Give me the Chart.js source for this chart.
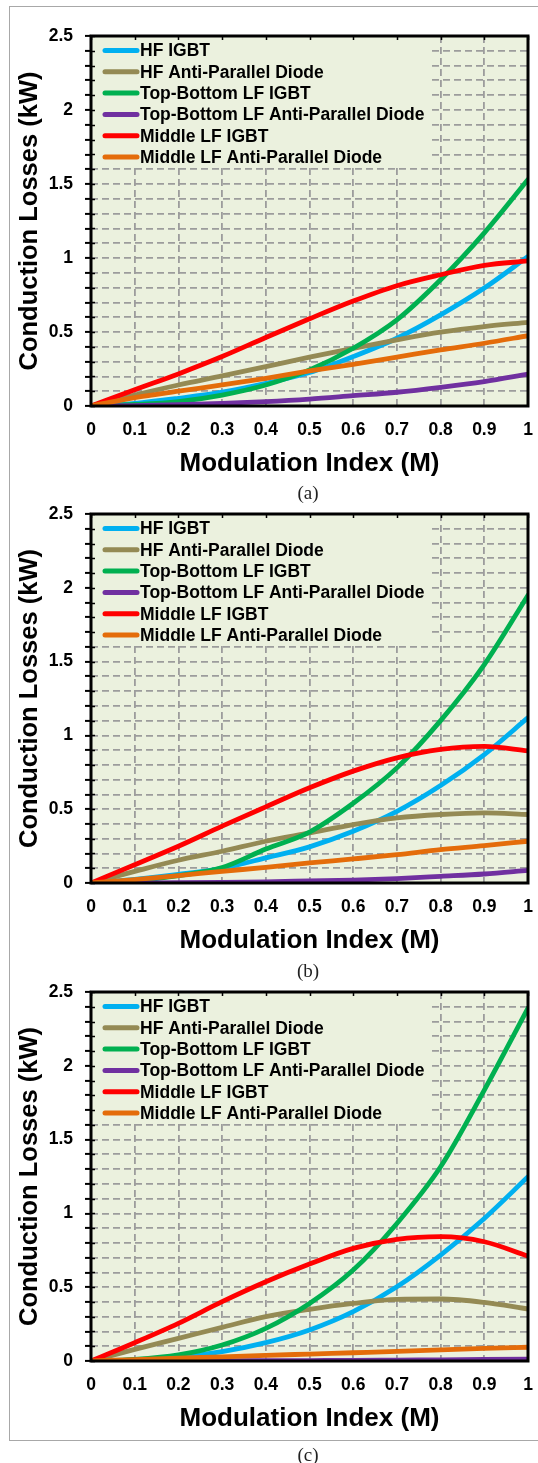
<!DOCTYPE html>
<html>
<head>
<meta charset="utf-8">
<script src="https://cdn.jsdelivr.net/npm/chart.js@4.4.1/dist/chart.umd.min.js"></script>
<style>
  html, body { margin: 0; padding: 0; background: #fff; width: 538px; height: 1463px; overflow: hidden; position: relative; }
  .frame { position: absolute; left: 9px; top: 6px; width: 620px; height: 1435px; border: 1px solid #a8a8a8; box-sizing: border-box; }
  canvas { position: absolute; left: 0; }
  .cap { position: absolute; width: 100px; text-align: center; font-family: "Times New Roman", "Liberation Serif", serif; font-size: 19px; line-height: 1; color: #222; }
</style>
</head>
<body>
<div class="frame"></div>
<canvas id="chartA" width="541" height="473" style="top:13px"></canvas>
<div class="cap" style="left:258px;top:483px">(a)</div>
<canvas id="chartB" width="541" height="472" style="top:491px"></canvas>
<div class="cap" style="left:258px;top:961px">(b)</div>
<canvas id="chartC" width="541" height="472" style="top:969px"></canvas>
<div class="cap" style="left:258px;top:1445px">(c)</div>

<script>
// Modulation index samples (x axis)
const modulationIndex = [0, 0.1, 0.2, 0.3, 0.4, 0.5, 0.6, 0.7, 0.8, 0.9, 1];

// Series names and colours
const seriesNames = [
  'HF IGBT',
  'HF Anti-Parallel Diode',
  'Top-Bottom LF IGBT',
  'Top-Bottom LF Anti-Parallel Diode',
  'Middle LF IGBT',
  'Middle LF Anti-Parallel Diode'
];
const seriesColors = ['#00B0F0', '#948A54', '#00B050', '#7030A0', '#FF0000', '#E46C0A'];

// Tick labels
const xTickLabels = ['0', '0.1', '0.2', '0.3', '0.4', '0.5', '0.6', '0.7', '0.8', '0.9', '1'];
const yTickLabels = ['0', '0.5', '1', '1.5', '2', '2.5'];

// Conduction losses (kW), case (a)
const hfIgbtA   = [0, 0.018, 0.052, 0.093, 0.153, 0.226, 0.334, 0.458, 0.616, 0.797, 1.01];
const hfDiodeA  = [0, 0.074, 0.142, 0.203, 0.266, 0.330, 0.390, 0.447, 0.499, 0.537, 0.565];
const tbIgbtA   = [0, 0.010, 0.030, 0.074, 0.142, 0.244, 0.390, 0.582, 0.853, 1.17, 1.53];
const tbDiodeA  = [0, 0.003, 0.009, 0.018, 0.030, 0.047, 0.070, 0.093, 0.126, 0.165, 0.215];
const midIgbtA  = [0, 0.110, 0.217, 0.334, 0.463, 0.589, 0.709, 0.813, 0.887, 0.950, 0.980];
const midDiodeA = [0, 0.056, 0.100, 0.142, 0.187, 0.237, 0.282, 0.330, 0.379, 0.424, 0.475];

// Conduction losses (kW), case (b)
const hfIgbtB   = [0, 0.025, 0.058, 0.100, 0.170, 0.245, 0.350, 0.485, 0.660, 0.870, 1.12];
const hfDiodeB  = [0, 0.079, 0.154, 0.215, 0.283, 0.339, 0.396, 0.441, 0.464, 0.475, 0.464];
const tbIgbtB   = [0, 0.015, 0.050, 0.105, 0.230, 0.345, 0.540, 0.780, 1.10, 1.48, 1.95];
const tbDiodeB  = [0, 0.001, 0.002, 0.004, 0.008, 0.014, 0.020, 0.030, 0.045, 0.061, 0.086];
const midIgbtB  = [0, 0.124, 0.249, 0.385, 0.516, 0.645, 0.758, 0.848, 0.905, 0.925, 0.895];
const midDiodeB = [0, 0.023, 0.050, 0.079, 0.106, 0.136, 0.163, 0.192, 0.226, 0.253, 0.283];

// Conduction losses (kW), case (c)
const hfIgbtC   = [0, 0.007, 0.025, 0.063, 0.124, 0.210, 0.334, 0.503, 0.718, 0.966, 1.248];
const hfDiodeC  = [0, 0.079, 0.153, 0.228, 0.300, 0.350, 0.390, 0.418, 0.420, 0.397, 0.352];
const tbIgbtC   = [0, 0.011, 0.041, 0.108, 0.221, 0.390, 0.616, 0.932, 1.316, 1.835, 2.39];
const tbDiodeC  = [0, 0.000, 0.0005, 0.001, 0.002, 0.003, 0.004, 0.006, 0.008, 0.010, 0.012];
const midIgbtC  = [0, 0.124, 0.255, 0.402, 0.537, 0.657, 0.763, 0.824, 0.842, 0.808, 0.711];
const midDiodeC = [0, 0.010, 0.019, 0.028, 0.038, 0.047, 0.056, 0.065, 0.075, 0.085, 0.093];

const PLOT_BG = '#EBF1DE';
const GRID_COLOR = '#9C9C9C';
const FONT = 'Arial, "Liberation Sans", sans-serif';

// Plot background, in-plot legend and heavy frame
const plotFrame = {
  id: 'plotFrame',
  beforeDraw(chart) {
    const { ctx, chartArea: a } = chart;
    ctx.save();
    ctx.fillStyle = PLOT_BG;
    ctx.fillRect(a.left, a.top, a.right - a.left, a.bottom - a.top);
    ctx.restore();
  },
  beforeDatasetsDraw(chart) {
    const { ctx, chartArea: a } = chart;
    ctx.save();
    ctx.fillStyle = PLOT_BG;
    ctx.fillRect(a.left, a.top, 337, 129);
    ctx.font = 'bold 17.5px ' + FONT;
    ctx.textBaseline = 'middle';
    ctx.textAlign = 'left';
    chart.data.datasets.forEach((ds, i) => {
      const y = a.top + 14.5 + i * 21.3;
      ctx.strokeStyle = ds.borderColor;
      ctx.lineWidth = 5;
      ctx.lineCap = 'round';
      ctx.beginPath();
      ctx.moveTo(a.left + 14, y);
      ctx.lineTo(a.left + 46, y);
      ctx.stroke();
      ctx.fillStyle = '#000';
      ctx.fillText(ds.label, a.left + 49, y + 1);
    });
    ctx.restore();
  },
  afterDraw(chart) {
    const { ctx, chartArea: a, scales } = chart;
    ctx.save();
    // short inward ticks along the left and top edges
    ctx.strokeStyle = '#000';
    ctx.lineWidth = 1.5;
    ctx.beginPath();
    scales.y.ticks.forEach(t => {
      const py = Math.round(scales.y.getPixelForValue(t.value)) + 0.5;
      ctx.moveTo(a.left, py); ctx.lineTo(a.left + 4, py);
    });
    scales.x.ticks.forEach(t => {
      const px = Math.round(scales.x.getPixelForValue(t.value)) + 0.5;
      ctx.moveTo(px, a.top); ctx.lineTo(px, a.top + 4);
    });
    ctx.stroke();
    ctx.lineWidth = 3;
    ctx.strokeRect(a.left, a.top, a.right - a.left, a.bottom - a.top);
    ctx.restore();
  }
};

function buildChart(canvasId, values) {
  const datasets = values.map((vals, i) => ({
    label: seriesNames[i],
    data: modulationIndex.map((m, k) => ({ x: m, y: vals[k] })),
    borderColor: seriesColors[i],
    backgroundColor: seriesColors[i],
    borderWidth: 4.8,
    borderCapStyle: 'round',
    borderJoinStyle: 'round',
    pointRadius: 0,
    cubicInterpolationMode: 'monotone',
    fill: false,
    order: values.length - i
  }));

  return new Chart(document.getElementById(canvasId), {
    type: 'line',
    data: { datasets },
    plugins: [plotFrame],
    options: {
      responsive: false,
      animation: false,
      devicePixelRatio: 1,
      layout: { padding: { top: 23, left: 12, right: 13, bottom: 0 } },
      plugins: { legend: { display: false }, tooltip: { enabled: false } },
      scales: {
        x: {
          type: 'linear',
          min: 0,
          max: 1,
          afterFit(scale) { scale.height = 80; },
          grid: { color: GRID_COLOR, lineWidth: 1.8, tickLength: 6, tickColor: 'rgba(0,0,0,0)' },
          border: { display: false, dash: [7, 4] },
          ticks: {
            stepSize: 0.1,
            autoSkip: false,
            maxRotation: 0,
            padding: 8,
            color: '#000',
            font: { family: FONT, size: 17.5, weight: 'bold' },
            callback: (v) => xTickLabels[Math.round(v * 10)] ?? ''
          },
          title: {
            display: true,
            text: 'Modulation Index (M)',
            color: '#000',
            font: { family: FONT, size: 26, weight: 'bold' },
            padding: { top: 0, bottom: 7 }
          }
        },
        y: {
          type: 'linear',
          min: 0,
          max: 2.5,
          afterFit(scale) { scale.width = 79; },
          grid: { color: GRID_COLOR, lineWidth: 1.8, tickLength: 6, tickColor: '#000', tickWidth: 2 },
          border: { display: false, dash: [7, 4] },
          ticks: {
            stepSize: 0.1,
            autoSkip: false,
            padding: 12,
            color: '#000',
            font: { family: FONT, size: 17.5, weight: 'bold' },
            callback: (v) => {
              const r = Math.round(v * 10);
              return r % 5 === 0 ? yTickLabels[r / 5] : '';
            }
          },
          title: {
            display: true,
            text: 'Conduction Losses (kW)',
            color: '#000',
            font: { family: FONT, size: 25.5, weight: 'bold' },
            padding: { top: 3, bottom: 0 }
          }
        }
      }
    }
  });
}

buildChart('chartA', [hfIgbtA, hfDiodeA, tbIgbtA, tbDiodeA, midIgbtA, midDiodeA]);
buildChart('chartB', [hfIgbtB, hfDiodeB, tbIgbtB, tbDiodeB, midIgbtB, midDiodeB]);
buildChart('chartC', [hfIgbtC, hfDiodeC, tbIgbtC, tbDiodeC, midIgbtC, midDiodeC]);
</script>
</body>
</html>
